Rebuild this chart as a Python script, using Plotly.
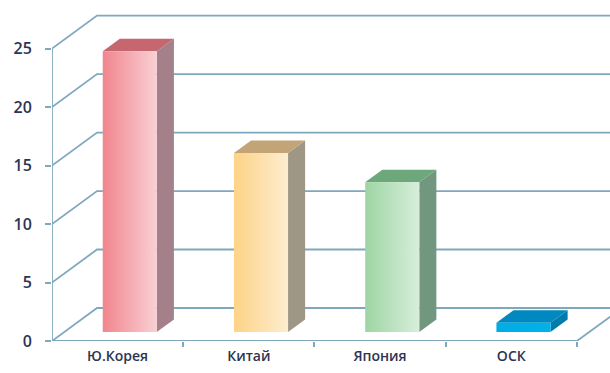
import plotly.graph_objects as go

# ---- data ----
categories = ["Ю.Корея", "Китай", "Япония", "ОСК"]
values = [24, 15.3, 12.8, 0.8]
y_ticks = [0, 5, 10, 15, 20, 25]

# ---- style ----
front_left = ["#f1858e", "#fdd386", "#9dd5a3", "#00ace6"]
front_right = ["#f9d0d4", "#fdedd0", "#d8eedb", "#00b2ea"]
side_col = ["#a4808a", "#9f9786", "#71987f", "#007bab"]
top_col = ["#c6666f", "#c2a477", "#6da87c", "#0089c0"]
grid_col = "#80a8bc"
text_col = "#2c3452"

# oblique projection (depth offsets expressed in axis units)
DX, DY = 0.343, 2.82
d0, d1 = 0.27, 0.65      # bar front / back depth fraction
hw = 0.206               # half width of a bar

fig = go.Figure()

# grid lines on the walls
for v in y_ticks:
    fig.add_trace(go.Scatter(
        x=[-0.5, -0.5 + DX, 3.5 + DX + 0.3], y=[v, v + DY, v + DY],
        mode="lines", line=dict(color=grid_col, width=1.8),
        hoverinfo="skip", showlegend=False))
# floor front edge and right edge
fig.add_trace(go.Scatter(x=[-0.5, 3.5, 3.5 + DX], y=[0, 0, DY], mode="lines",
                         line=dict(color=grid_col, width=1.8),
                         hoverinfo="skip", showlegend=False))
# vertical value axis line
fig.add_trace(go.Scatter(x=[-0.5, -0.5], y=[0, y_ticks[-1]], mode="lines",
                         line=dict(color=grid_col, width=1.8),
                         hoverinfo="skip", showlegend=False))

# 3D bars
for i, (cat, v) in enumerate(zip(categories, values)):
    b = d0 * DY
    x0 = i + d0 * DX - hw
    x1 = i + d0 * DX + hw
    ddx = (d1 - d0) * DX
    ddy = (d1 - d0) * DY
    # side face
    fig.add_trace(go.Scatter(
        x=[x1, x1 + ddx, x1 + ddx, x1, x1], y=[b, b + ddy, b + ddy + v, b + v, b],
        fill="toself", fillcolor=side_col[i], mode="lines", line=dict(width=0),
        hoverinfo="skip", showlegend=False))
    # top face
    fig.add_trace(go.Scatter(
        x=[x0, x1, x1 + ddx, x0 + ddx, x0], y=[b + v, b + v, b + v + ddy, b + v + ddy, b + v],
        fill="toself", fillcolor=top_col[i], mode="lines", line=dict(width=0),
        hoverinfo="skip", showlegend=False))
    # front face
    fig.add_trace(go.Scatter(
        x=[x0, x1, x1, x0, x0], y=[b, b, b + v, b + v, b],
        fill="toself", mode="lines", line=dict(width=0),
        fillgradient=dict(type="horizontal",
                          colorscale=[[0, front_left[i]], [1, front_right[i]]]),
        name=cat, hoverinfo="skip", showlegend=False))

fig.update_layout(
    width=610, height=373,
    margin=dict(l=52, r=0, t=0, b=32),
    paper_bgcolor="white", plot_bgcolor="white",
    showlegend=False,
    xaxis=dict(range=[-0.5, 3.752], tickmode="array",
               tickvals=list(range(len(categories))), ticktext=categories,
               showgrid=False, zeroline=False, showline=False,
               ticks="", ticklabelstandoff=5,
               tickfont=dict(family="Open Sans", size=14, color=text_col, weight=600),
               minor=dict(tickvals=[0.5, 1.5, 2.5, 3.5], ticks="outside",
                          ticklen=5, tickcolor=grid_col, tickwidth=1.6)),
    yaxis=dict(range=[0, 29.15], tickmode="array", tickvals=y_ticks,
               showgrid=False, zeroline=False, showline=False,
               ticks="outside", ticklen=6, tickcolor=grid_col, tickwidth=1.6,
               ticklabelstandoff=10,
               tickfont=dict(family="Open Sans", size=16, color=text_col, weight=600)),
)

fig.write_html("out.html")
